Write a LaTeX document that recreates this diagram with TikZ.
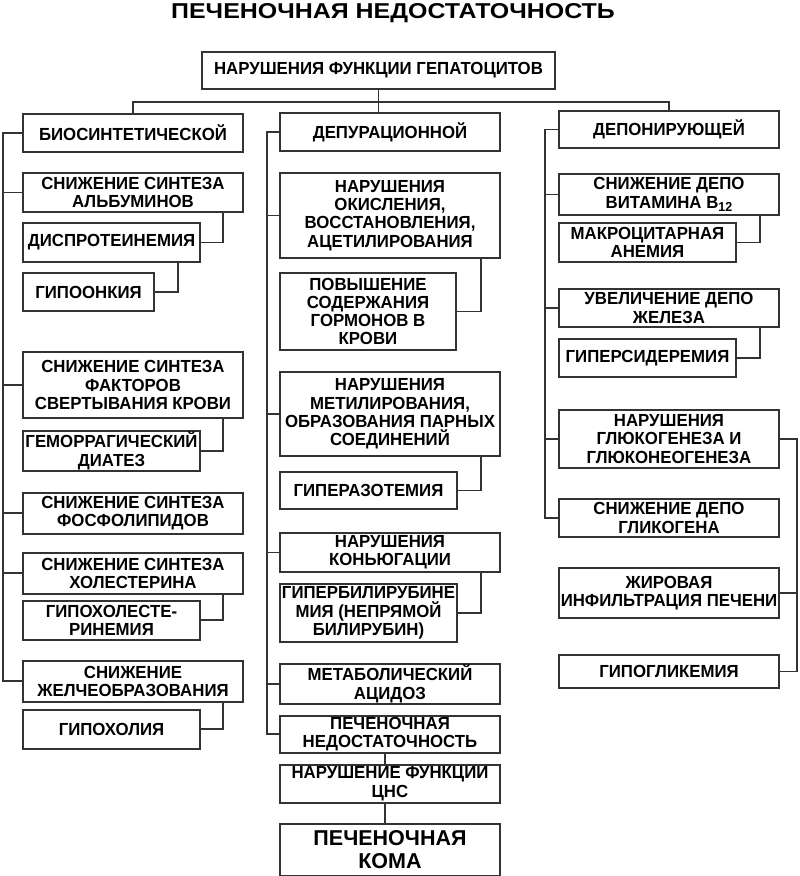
\documentclass[tikz,border=0pt]{standalone}
\usepackage{fontspec}
\setmainfont{Liberation Sans}
\newfontfamily\boxfont[FakeStretch=0.96]{Liberation Sans}
\newfontfamily\headfont[FakeStretch=1.16]{Liberation Sans}
\usetikzlibrary{positioning}

\begin{document}
\begin{tikzpicture}[
    x=1pt, y=-1pt,
    box node/.style={
        draw=black!80,
        line width=1.8pt,
        outer sep=0pt,
        inner sep=1pt,
        align=center,
        font=\boxfont\bfseries\fontsize{17.5}{18.3}\selectfont
    },
    wide/.style={box node, minimum width=220pt},
    narrow/.style={box node, minimum width=177pt},
    link/.style={draw=black!80, line width=1.8pt}
]
\useasboundingbox (0,0) rectangle (800,876);

\node[font=\headfont\bfseries\fontsize{21.5}{24}\selectfont, anchor=base] (title) at (393,18.5) {ПЕЧЕНОЧНАЯ НЕДОСТАТОЧНОСТЬ};

\node[box node, minimum width=353pt, minimum height=37pt, anchor=north west] (top) at (202,52) {НАРУШЕНИЯ ФУНКЦИИ ГЕПАТОЦИТОВ};

% three functions
\node[wide, minimum height=38pt, anchor=north west] (bio) at (23,114) {БИОСИНТЕТИЧЕСКОЙ};
\node[wide, minimum height=38pt, anchor=north west] (depur) at (280,113) {ДЕПУРАЦИОННОЙ};
\node[wide, minimum height=37pt, anchor=north west] (depon) at (559,111) {ДЕПОНИРУЮЩЕЙ};

% biosynthetic
\node[wide, minimum height=39pt, below=21pt of bio.south west, anchor=north west] (alb) {СНИЖЕНИЕ СИНТЕЗА\\АЛЬБУМИНОВ};
\node[narrow, minimum height=39pt, below=11pt of alb.south west, anchor=north west] (dysp) {ДИСПРОТЕИНЕМИЯ};
\node[box node, minimum width=131pt, minimum height=38pt, below=11pt of dysp.south west, anchor=north west] (onc) {ГИПООНКИЯ};
\node[wide, minimum height=66pt, below=41pt of onc.south west, anchor=north west] (fact) {СНИЖЕНИЕ СИНТЕЗА\\ФАКТОРОВ\\СВЕРТЫВАНИЯ КРОВИ};
\node[narrow, minimum height=38pt, below=13pt of fact.south west, anchor=north west] (hem) {ГЕМОРРАГИЧЕСКИЙ\\ДИАТЕЗ};
\node[wide, minimum height=41pt, below=22pt of hem.south west, anchor=north west] (phos) {СНИЖЕНИЕ СИНТЕЗА\\ФОСФОЛИПИДОВ};
\node[wide, minimum height=41pt, below=19pt of phos.south west, anchor=north west] (chol) {СНИЖЕНИЕ СИНТЕЗА\\ХОЛЕСТЕРИНА};
\node[narrow, minimum height=39pt, below=7pt of chol.south west, anchor=north west] (hchol) {ГИПОХОЛЕСТЕ-\\РИНЕМИЯ};
\node[wide, minimum height=41pt, below=21pt of hchol.south west, anchor=north west] (bile) {СНИЖЕНИЕ\\ЖЕЛЧЕОБРАЗОВАНИЯ};
\node[narrow, minimum height=39pt, below=8pt of bile.south west, anchor=north west] (hpch) {ГИПОХОЛИЯ};

% depuration
\node[wide, minimum height=85pt, below=22pt of depur.south west, anchor=north west] (oxid) {НАРУШЕНИЯ\\ОКИСЛЕНИЯ,\\ВОССТАНОВЛЕНИЯ,\\АЦЕТИЛИРОВАНИЯ};
\node[box node, minimum width=176pt, minimum height=77pt, below=15pt of oxid.south west, anchor=north west] (horm) {ПОВЫШЕНИЕ\\СОДЕРЖАНИЯ\\ГОРМОНОВ В\\КРОВИ};
\node[wide, minimum height=84pt, below=22pt of horm.south west, anchor=north west] (meth) {НАРУШЕНИЯ\\МЕТИЛИРОВАНИЯ,\\ОБРАЗОВАНИЯ ПАРНЫХ\\СОЕДИНЕНИЙ};
\node[narrow, minimum height=37pt, below=16pt of meth.south west, anchor=north west] (azot) {ГИПЕРАЗОТЕМИЯ};
\node[wide, minimum height=39pt, below=24pt of azot.south west, anchor=north west] (conj) {НАРУШЕНИЯ\\КОНЬЮГАЦИИ};
\node[narrow, minimum height=58pt, below=12pt of conj.south west, anchor=north west] (bili) {ГИПЕРБИЛИРУБИНЕ\\МИЯ (НЕПРЯМОЙ\\БИЛИРУБИН)};
\node[wide, minimum height=38pt, below=22pt of bili.south west, anchor=north west] (acid) {МЕТАБОЛИЧЕСКИЙ\\АЦИДОЗ};
\node[wide, minimum height=37pt, below=12pt of acid.south west, anchor=north west] (hepf) {ПЕЧЕНОЧНАЯ\\НЕДОСТАТОЧНОСТЬ};
\node[wide, minimum height=38pt, below=12pt of hepf.south west, anchor=north west] (cns) {НАРУШЕНИЕ ФУНКЦИИ\\ЦНС};
\node[wide, minimum height=52pt, below=21pt of cns.south west, anchor=north west,
      font=\bfseries\fontsize{21.5}{23}\selectfont] (coma) {ПЕЧЕНОЧНАЯ\\КОМА};

% depositing
\node[wide, minimum height=41pt, below=26pt of depon.south west, anchor=north west] (b12) {СНИЖЕНИЕ ДЕПО\\ВИТАМИНА B\raisebox{-3pt}{\fontsize{13}{13}\selectfont 12}};
\node[narrow, minimum height=39pt, below=8pt of b12.south west, anchor=north west] (macro) {МАКРОЦИТАРНАЯ\\АНЕМИЯ};
\node[wide, minimum height=38pt, below=27pt of macro.south west, anchor=north west] (iron) {УВЕЛИЧЕНИЕ ДЕПО\\ЖЕЛЕЗА};
\node[narrow, minimum height=38pt, below=12pt of iron.south west, anchor=north west] (sider) {ГИПЕРСИДЕРЕМИЯ};
\node[wide, minimum height=58pt, below=33pt of sider.south west, anchor=north west] (gluc) {НАРУШЕНИЯ\\ГЛЮКОГЕНЕЗА И\\ГЛЮКОНЕОГЕНЕЗА};
\node[wide, minimum height=38pt, below=31pt of gluc.south west, anchor=north west] (glyc) {СНИЖЕНИЕ ДЕПО\\ГЛИКОГЕНА};
\node[wide, minimum height=50pt, below=31pt of glyc.south west, anchor=north west] (fat) {ЖИРОВАЯ\\ИНФИЛЬТРАЦИЯ ПЕЧЕНИ};
\node[wide, minimum height=33pt, below=37pt of fat.south west, anchor=north west] (hypg) {ГИПОГЛИКЕМИЯ};

% spines
\coordinate (spL) at (3,0);
\coordinate (spM) at (267,0);
\coordinate (spR) at (545,0);
\coordinate (spG) at (797,0);

% top bus
\draw[link] (top.south) -- (top.south |- depur.north);
\draw[link] (bio.north) -- ++(0,-12) -| (depon.north);

% left column
\draw[link] (bio.west) -| (spL |- bile.west) -- (bile.west);
\foreach \n in {alb,fact,phos,chol}
    \draw[link] (\n.west) -- (\n.west -| spL);
\draw[link] ([xshift=-20pt]alb.south east) |- (dysp.east);
\draw[link] ([xshift=-22pt]dysp.south east) |- (onc.east);
\draw[link] ([xshift=-20pt]fact.south east) |- (hem.east);
\draw[link] ([xshift=-20pt]chol.south east) |- (hchol.east);
\draw[link] ([xshift=-20pt]bile.south east) |- (hpch.east);

% middle column
\draw[link] (depur.west) -| (spM |- hepf.west) -- (hepf.west);
\foreach \n in {oxid,meth,conj,acid}
    \draw[link] (\n.west) -- (\n.west -| spM);
\draw[link] ([xshift=-19pt]oxid.south east) |- (horm.east);
\draw[link] ([xshift=-19pt]meth.south east) |- (azot.east);
\draw[link] ([xshift=-19pt]conj.south east) |- (bili.east);
\draw[link] ([xshift=-5pt]hepf.south) -- ([xshift=-5pt]cns.north);
\draw[link] ([xshift=-5pt]cns.south) -- ([xshift=-5pt]coma.north);

% right column
\draw[link] (depon.west) -| (spR |- glyc.west) -- (glyc.west);
\foreach \n in {b12,iron,gluc}
    \draw[link] (\n.west) -- (\n.west -| spR);
\draw[link] ([xshift=-19pt]b12.south east) |- (macro.east);
\draw[link] ([xshift=-19pt]iron.south east) |- (sider.east);
\draw[link] (gluc.east) -| (spG |- hypg.east) -- (hypg.east);
\draw[link] (fat.east) -- (fat.east -| spG);

\end{tikzpicture}
\end{document}
